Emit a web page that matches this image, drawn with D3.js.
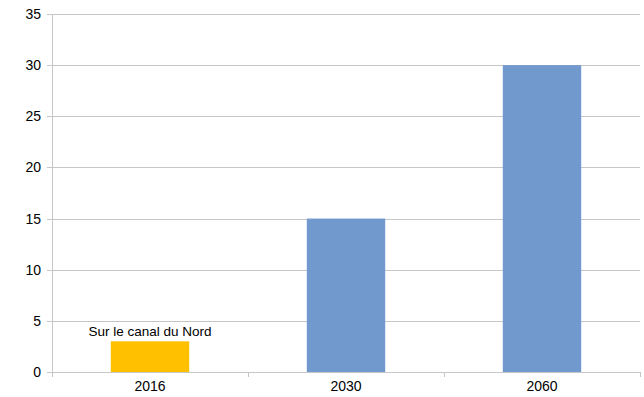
<!DOCTYPE html>
<html>
<head>
<meta charset="utf-8">
<script src="https://cdn.jsdelivr.net/npm/d3@7"></script>
<style>
  body { margin: 0; background: #fff; }
  text { font-family: "Liberation Sans", Arial, sans-serif; fill: #000; }
</style>
</head>
<body>
<div id="chart"></div>
<script>
const years = ["2016", "2030", "2060"];
const values = [3, 15, 30];
const barColors = ["#ffc000", "#7199cd", "#7199cd"];
const yTicks = [0, 5, 10, 15, 20, 25, 30, 35];
const annotation = "Sur le canal du Nord";

const W = 644, H = 397;
const margin = { top: 14, right: 4, bottom: 25, left: 52 };
const width = W - margin.left - margin.right;
const height = H - margin.top - margin.bottom;

const svg = d3.select("#chart").append("svg")
    .attr("width", W)
    .attr("height", H);

const g = svg.append("g")
    .attr("transform", "translate(" + margin.left + "," + margin.top + ")");

const y = d3.scaleLinear().domain([0, 35]).range([height, 0]);
const x = d3.scaleBand().domain(years).range([0, width])
    .paddingInner(0.6).paddingOuter(0.3);

// horizontal gridlines
g.selectAll(".grid")
    .data(yTicks)
    .enter()
    .append("line")
    .attr("x1", -5)
    .attr("x2", width)
    .attr("y1", d => Math.round(y(d)) + 0.5)
    .attr("y2", d => Math.round(y(d)) + 0.5)
    .attr("stroke", "#c6c6c6");

// y axis line
g.append("line")
    .attr("x1", 0.5).attr("x2", 0.5)
    .attr("y1", 0).attr("y2", height)
    .attr("stroke", "#c6c6c6");

// y tick labels
g.selectAll(".ylab")
    .data(yTicks)
    .enter()
    .append("text")
    .attr("x", -11)
    .attr("y", d => y(d) + 5)
    .attr("text-anchor", "end")
    .style("font-size", "14px")
    .text(d => d);

// bars
g.selectAll(".bar")
    .data(years)
    .enter()
    .append("rect")
    .attr("x", d => x(d))
    .attr("width", x.bandwidth())
    .attr("y", (d, i) => y(values[i]))
    .attr("height", (d, i) => y(0) - y(values[i]))
    .attr("fill", (d, i) => barColors[i]);

// x axis with ticks between categories
const xAxis = g.append("g").attr("transform", "translate(0," + height + ")");
xAxis.append("line")
    .attr("x1", 0).attr("x2", width)
    .attr("y1", 0.5).attr("y2", 0.5)
    .attr("stroke", "#c6c6c6");
const step = x.step();
const bounds = [0].concat(years.map(d => x(d) + x.bandwidth() / 2 + step / 2));
xAxis.selectAll(".xt")
    .data(bounds)
    .enter()
    .append("line")
    .attr("x1", d => Math.round(d) + 0.5)
    .attr("x2", d => Math.round(d) + 0.5)
    .attr("y1", 0).attr("y2", 5)
    .attr("stroke", "#c6c6c6");

xAxis.selectAll(".xlab")
    .data(years)
    .enter()
    .append("text")
    .attr("x", d => x(d) + x.bandwidth() / 2)
    .attr("y", 19)
    .attr("text-anchor", "middle")
    .style("font-size", "14px")
    .text(d => d);

// annotation above the 2016 bar
g.append("text")
    .attr("x", x(years[0]) + x.bandwidth() / 2)
    .attr("y", y(values[0]) - 5)
    .attr("text-anchor", "middle")
    .style("font-size", "13.5px")
    .text(annotation);
</script>
</body>
</html>
